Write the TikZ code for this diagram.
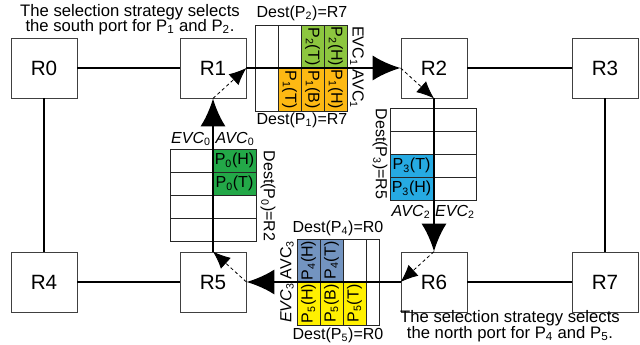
\documentclass[tikz,border=0pt]{standalone}
\usepackage{fontspec}
\setmainfont{Liberation Sans}
\usetikzlibrary{arrows.meta}

\definecolor{pkgreen}{RGB}{141,198,63}
\definecolor{pkdkgreen}{RGB}{35,168,72}
\definecolor{pkorange}{RGB}{253,185,19}
\definecolor{pkblue}{RGB}{38,170,226}
\definecolor{pkslate}{RGB}{115,148,192}
\definecolor{pkyellow}{RGB}{255,240,0}

\newcommand{\pk}[2]{P\textsubscript{#1}(#2)}

\tikzset{
  router/.style={draw=black!75, line width=0.6pt, minimum width=49.5pt, minimum height=45pt,
    inner sep=0pt, font=\fontsize{15.5}{16}\selectfont},
  link/.style={line width=2.2pt},
  flow/.style={line width=2.2pt, -{Latex[length=21pt,width=19pt]}},
  turn/.style={line width=0.6pt, dash pattern=on 2.5pt off 2pt, -{Latex[length=13pt,width=11pt]}},
  cell/.style={draw=black!85, line width=0.6pt, minimum width=32.25pt, minimum height=17.25pt,
    inner sep=0pt, font=\fontsize{12}{12}\selectfont},
  lbl/.style={inner sep=0pt, font=\fontsize{12}{12}\selectfont},
  note/.style={inner sep=0pt, font=\fontsize{12.5}{13}\selectfont}
}

\begin{document}
\begin{tikzpicture}[x=0.75pt, y=-0.75pt]

  \useasboundingbox (0,0) rectangle (640,345);

  % Router
  \node[router] (r0) at (44,68) {R0};
  \node[router] (r1) at (213,68) {R1};
  \node[router] (r2) at (434,68) {R2};
  \node[router] (r3) at (605,68) {R3};
  \node[router] (r4) at (44,282) {R4};
  \node[router] (r5) at (213,282) {R5};
  \node[router] (r6) at (434,282) {R6};
  \node[router] (r7) at (605,282) {R7};

  % Collegamenti
  \draw[link] (r0) -- (r1);
  \draw[link] (r2) -- (r3);
  \draw[link] (r4) -- (r5);
  \draw[link] (r6) -- (r7);
  \draw[link] (r0) -- (r4);
  \draw[link] (r3) -- (r7);

  % Buffer R1 -> R2
  \foreach \i/\txt/\col in {1//white,2//white,3/\pk{2}{T}/pkgreen,4/\pk{2}{H}/pkgreen}
    \node[cell, rotate=-90, fill=\col] (te\i) at (243.5+23*\i,46.5) {\txt};
  \foreach \i/\txt/\col in {1//white,2/\pk{1}{T}/pkorange,3/\pk{1}{B}/pkorange,4/\pk{1}{H}/pkorange}
    \node[cell, rotate=-90, fill=\col] (ta\i) at (243.5+23*\i,89.5) {\txt};
  \node[lbl] (dest2) at (302,13) {Dest(P\textsubscript{2})=R7};
  \node[lbl] (dest1) at (302,120) {Dest(P\textsubscript{1})=R7};
  \node[lbl, rotate=-90] (evc1) at (357,46) {EVC\textsubscript{1}};
  \node[lbl, rotate=-90] (avc1) at (357,89) {AVC\textsubscript{1}};

  % Buffer R5 -> R1
  \foreach \i in {1,...,4}
    \node[cell] (le\i) at (191.5,137.5+23*\i) {};
  \foreach \i/\txt/\col in {1/\pk{0}{H}/pkdkgreen,2/\pk{0}{T}/pkdkgreen,3//white,4//white}
    \node[cell, fill=\col] (la\i) at (234.5,137.5+23*\i) {\txt};
  \node[lbl] (evc0) at (191,139) {\textit{EVC}\textsubscript{0}};
  \node[lbl] (avc0) at (235,139) {\textit{AVC}\textsubscript{0}};
  \node[lbl, rotate=-90] (dest0) at (268,196) {Dest(P\textsubscript{0})=R2};

  % Buffer R2 -> R6
  \foreach \i/\txt/\col in {1//white,2//white,3/\pk{3}{T}/pkblue,4/\pk{3}{H}/pkblue}
    \node[cell, fill=\col] (ra\i) at (411.5,96.5+23*\i) {\txt};
  \foreach \i in {1,...,4}
    \node[cell] (re\i) at (454.5,96.5+23*\i) {};
  \node[lbl] (avc2) at (411,212) {\textit{AVC}\textsubscript{2}};
  \node[lbl] (evc2) at (455,212) {\textit{EVC}\textsubscript{2}};
  \node[lbl, rotate=-90] (dest3) at (380,154) {Dest(P\textsubscript{3})=R5};

  % Buffer R6 -> R5
  \foreach \i/\txt/\col in {1/\pk{4}{H}/pkslate,2/\pk{4}{T}/pkslate,3//white}
    \node[cell, rotate=90, fill=\col] (ba\i) at (285.5+23*\i,260.5) {\txt};
  \node[cell, rotate=90, minimum height=9.75pt] (ba4) at (372.5,260.5) {};
  \foreach \i/\txt/\col in {1/\pk{5}{H}/pkyellow,2/\pk{5}{B}/pkyellow,3/\pk{5}{T}/pkyellow}
    \node[cell, rotate=90, fill=\col] (be\i) at (285.5+23*\i,303.5) {\txt};
  \node[cell, rotate=90, minimum height=9.75pt] (be4) at (372.5,303.5) {};
  \node[lbl] (dest4) at (338,228) {Dest(P\textsubscript{4})=R0};
  \node[lbl] (dest5) at (338,335) {Dest(P\textsubscript{5})=R0};
  \node[lbl, rotate=90] (avc3) at (287,260) {AVC\textsubscript{3}};
  \node[lbl, rotate=90] (evc3) at (287,303) {\textit{EVC}\textsubscript{3}};

  % Percorso
  \draw[flow] (r1.east) -- (r2.west);
  \draw[flow] (r2.south) -- (r6.north);
  \draw[flow] (r6.west) -- (r5.east);
  \draw[flow] (r5.north) -- (r1.south);

  % Svolte nei router
  \draw[turn] (r1.south) -- (r1.east);
  \draw[turn] (r2.west) -- (r2.south);
  \draw[turn] (r6.north) -- (r6.west);
  \draw[turn] (r5.east) -- (r5.north);

  % Note
  \node[note] (south1) at (130,12) {The selection strategy selects};
  \node[note] (south2) at (130,27) {the south port for P\textsubscript{1} and P\textsubscript{2}.};
  \node[note] (north1) at (510,318) {The selection strategy selects};
  \node[note] (north2) at (510,334) {the north port for P\textsubscript{4} and P\textsubscript{5}.};

\end{tikzpicture}
\end{document}
